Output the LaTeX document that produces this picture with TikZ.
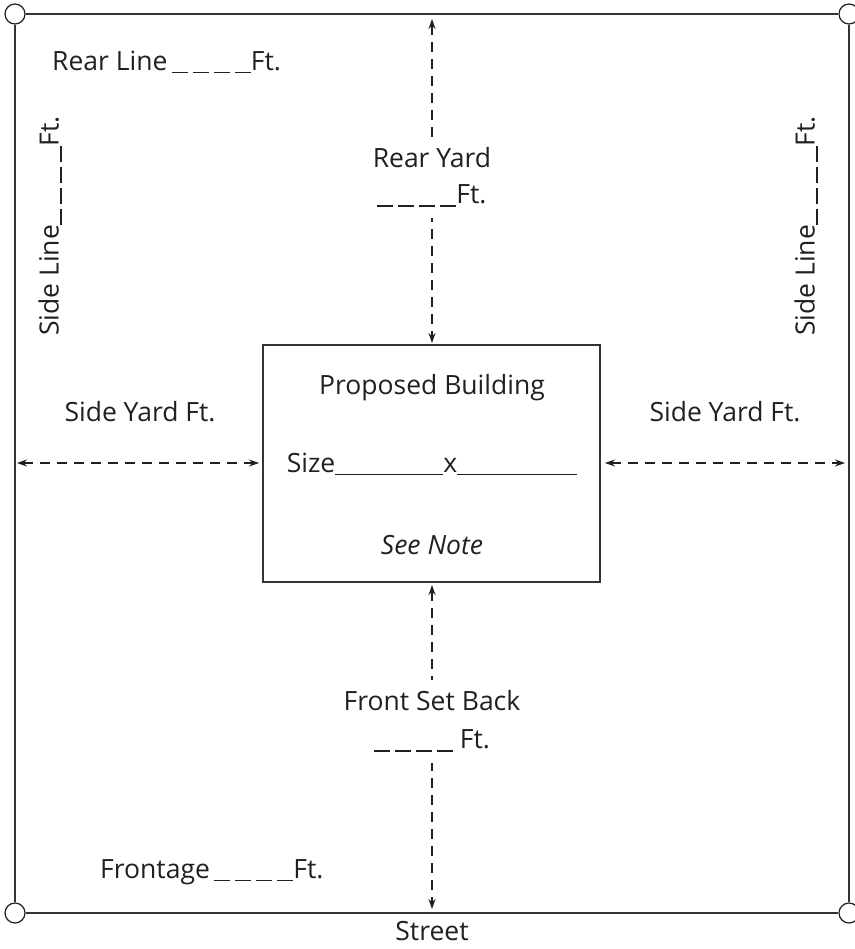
\documentclass[tikz,border=0pt]{standalone}
\usepackage{fontspec}
\setmainfont{Open Sans}
\usetikzlibrary{arrows.meta}
\definecolor{ink}{HTML}{231F20}
\definecolor{rule}{HTML}{333333}
\newcommand\oneblank{\rule[-3pt]{16pt}{1.5pt}}
\newcommand\blanks{\oneblank\hspace{5pt}\oneblank\hspace{5pt}\oneblank\hspace{5pt}\oneblank}
\newcommand\longblank[1]{\rule[-3pt]{#1}{1.4pt}}
\begin{document}
\begin{tikzpicture}[x=1pt,y=-1pt,
  lbl/.style={text=ink,font=\fontsize{26.5}{30}\selectfont,inner sep=2pt},
  wlbl/.style={lbl,fill=white,inner xsep=5pt,inner ysep=11pt},
  corner/.style={circle,draw=ink,line width=1.2pt,minimum size=20pt,inner sep=0pt},
  lot/.style={draw=rule,line width=1.5pt},
  dim/.style={draw=ink,line width=1.2pt,dash pattern=on 10pt off 7pt,
    {Stealth[length=10pt,width=7pt]}-{Stealth[length=10pt,width=7pt]}}]
\useasboundingbox (0,0) rectangle (854,949);
% lot corners
\node[corner] (ca) at (15,14) {};
\node[corner] (cb) at (849,14) {};
\node[corner] (cc) at (849,913) {};
\node[corner] (cd) at (15,913) {};
\draw[lot] (ca) -- (cb);
\draw[lot] (cb) -- (cc);
\draw[lot] (cc) -- (cd);
\draw[lot] (cd) -- (ca);
% building
\node[draw=rule,line width=1.5pt,minimum width=337pt,minimum height=237pt,inner sep=0pt] (bld) at (431.5,463.5) {};
% dimension end points
\coordinate (rtop) at (432,19);
\coordinate (rbot) at (432,343);
\coordinate (ftop) at (432,585);
\coordinate (fbot) at (432,909);
\coordinate (sl1) at (17,463);
\coordinate (sl2) at (259,463);
\coordinate (sr1) at (605,463);
\coordinate (sr2) at (845,463);
\draw[dim] (rtop) -- (rbot);
\draw[dim] (ftop) -- (fbot);
\draw[dim] (sl1) -- (sl2);
\draw[dim] (sr1) -- (sr2);
% labels
\node[wlbl] (ry) at (432,158) {Rear Yard};
\node[wlbl] (ryft) at (432,196) {\blanks Ft.};
\node[wlbl] (fs) at (432,701) {Front Set Back};
\node[wlbl] (fsft) at (432,741) {\blanks\ Ft.};
\node[lbl,anchor=west] (rl) at (50,62) {Rear Line\,\blanks Ft.};
\node[lbl,anchor=west] (fr) at (98,872) {Frontage\,\blanks Ft.};
\node[lbl] (st) at (432,931) {Street};
\node[lbl] (syl) at (140,412) {Side Yard Ft.};
\node[lbl] (syr) at (725,412) {Side Yard Ft.};
\node[lbl,rotate=90] (sll) at (50,226) {Side Line\blanks Ft.};
\node[lbl,rotate=90] (slr) at (806,226) {Side Line\blanks Ft.};
\node[lbl] (pb) at (432,388) {Proposed Building};
\node[lbl] (sz) at (432,464) {Size\longblank{108pt}x\longblank{120pt}};
\node[lbl,font=\fontsize{26.5}{30}\selectfont\itshape] (sn) at (432,545) {See Note};
\end{tikzpicture}
\end{document}
